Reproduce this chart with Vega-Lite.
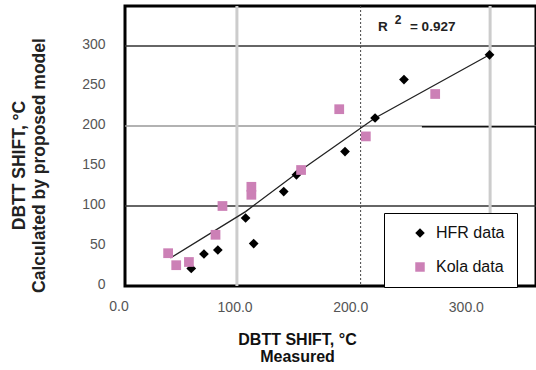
{
  "$schema": "https://vega.github.io/schema/vega-lite/v6.json",
  "autosize": "none",
  "width": 411,
  "height": 280,
  "padding": {"left": 125, "top": 6, "right": 0, "bottom": 84},
  "background": "white",
  "config": {
    "view": {"stroke": "black", "strokeWidth": 3},
    "font": "Liberation Sans"
  },
  "datasets": {
    "points": [
      {"series": "HFR data", "measured": 62.5, "calc": 22},
      {"series": "HFR data", "measured": 73.5, "calc": 40},
      {"series": "HFR data", "measured": 85.5, "calc": 45},
      {"series": "HFR data", "measured": 109.5, "calc": 85},
      {"series": "HFR data", "measured": 116.5, "calc": 53},
      {"series": "HFR data", "measured": 142.5, "calc": 118},
      {"series": "HFR data", "measured": 153.5, "calc": 139},
      {"series": "HFR data", "measured": 195.5, "calc": 168},
      {"series": "HFR data", "measured": 221.5, "calc": 210},
      {"series": "HFR data", "measured": 246.5, "calc": 258},
      {"series": "HFR data", "measured": 320.5, "calc": 289},
      {"series": "Kola data", "measured": 42.5, "calc": 41},
      {"series": "Kola data", "measured": 49.5, "calc": 26},
      {"series": "Kola data", "measured": 60.5, "calc": 30},
      {"series": "Kola data", "measured": 83.5, "calc": 64},
      {"series": "Kola data", "measured": 89.5, "calc": 100},
      {"series": "Kola data", "measured": 114.5, "calc": 124},
      {"series": "Kola data", "measured": 114.5, "calc": 114},
      {"series": "Kola data", "measured": 157.5, "calc": 145},
      {"series": "Kola data", "measured": 190.5, "calc": 221},
      {"series": "Kola data", "measured": 213.5, "calc": 187},
      {"series": "Kola data", "measured": 273.5, "calc": 240}
    ],
    "fit": [
      {"measured": 44.5, "calc": 35},
      {"measured": 109.5, "calc": 93},
      {"measured": 157.5, "calc": 145},
      {"measured": 221.5, "calc": 210},
      {"measured": 320.5, "calc": 289}
    ],
    "hdark": [
      {"y": 100},
      {"y": 300}
    ],
    "hlight": [
      {"y": 200}
    ],
    "hblack": [
      {"y": 199, "xa": 262, "xb": 361}
    ],
    "vgrid": [
      {"x": 102},
      {"x": 321}
    ],
    "vdot": [
      {"x": 209}
    ],
    "zerolabel": [
      {"x": 0, "y": -26, "t": "0.0"}
    ],
    "rlabel": [
      {"x": 224, "y": 323.5, "t": "R"},
      {"x": 251.7, "y": 323.5, "t": "= 0.927"}
    ],
    "rsup": [
      {"x": 238.5, "y": 333, "t": "2"}
    ]
  },
  "layer": [
    {
      "data": {"name": "hdark"},
      "mark": {"type": "rule", "strokeWidth": 1.3, "color": "#333333"},
      "encoding": {
        "y": {"field": "y", "type": "quantitative", "scale": {"domain": [0, 350]}}
      }
    },
    {
      "data": {"name": "hlight"},
      "mark": {"type": "rule", "strokeWidth": 1.3, "color": "#999999"},
      "encoding": {
        "y": {"field": "y", "type": "quantitative"}
      }
    },
    {
      "data": {"name": "hblack"},
      "mark": {"type": "rule", "strokeWidth": 1.5, "color": "#111111"},
      "encoding": {
        "y": {"field": "y", "type": "quantitative"},
        "x": {"field": "xa", "type": "quantitative", "scale": {"domain": [5.2, 360.7]}},
        "x2": {"field": "xb"}
      }
    },
    {
      "data": {"name": "vgrid"},
      "mark": {"type": "rule", "strokeWidth": 3, "color": "#cccccc"},
      "encoding": {
        "x": {"field": "x", "type": "quantitative"}
      }
    },
    {
      "data": {"name": "vdot"},
      "mark": {"type": "rule", "strokeWidth": 1, "color": "#444444", "strokeDash": [2, 2]},
      "encoding": {
        "x": {"field": "x", "type": "quantitative"}
      }
    },
    {
      "data": {"name": "fit"},
      "mark": {"type": "line", "color": "#222222", "strokeWidth": 1.3},
      "encoding": {
        "x": {"field": "measured", "type": "quantitative"},
        "y": {"field": "calc", "type": "quantitative"}
      }
    },
    {
      "data": {"name": "points"},
      "mark": {"type": "point", "filled": true, "opacity": 1, "size": 95},
      "encoding": {
        "x": {
          "field": "measured", "type": "quantitative",
          "scale": {"domain": [5.2, 360.7], "nice": false, "zero": false},
          "axis": {
            "values": [0, 100, 200, 300], "format": ".1f", "grid": false, "domain": false,
            "ticks": false, "labelFlush": false, "labelFontSize": 14, "labelColor": "#555555", "labelPadding": 14,
            "title": ["DBTT SHIFT, °C", "Measured"], "titleFontSize": 16, "titleFontWeight": "bold",
            "titleColor": "#111111", "titleLineHeight": 17, "titleX": 172, "titleY": 45, "titleBaseline": "top"
          }
        },
        "y": {
          "field": "calc", "type": "quantitative",
          "scale": {"domain": [0, 350], "nice": false},
          "axis": {
            "values": [0, 50, 100, 150, 200, 250, 300], "grid": false, "domain": false,
            "ticks": false, "labelFontSize": 14, "labelColor": "#555555", "labelPadding": 20, "labelOffset": -2,
            "title": ["DBTT SHIFT, °C", "Calculated by proposed model"], "titleFontSize": 17.5, "titleFontWeight": "bold",
            "titleColor": "#222222", "titleLineHeight": 20, "titleX": -115, "titleY": 159, "titleBaseline": "top"
          }
        },
        "shape": {
          "field": "series", "type": "nominal",
          "scale": {"domain": ["HFR data", "Kola data"], "range": ["diamond", "square"]},
          "legend": {
            "title": null, "orient": "none", "legendX": 259, "legendY": 207,
            "strokeColor": "black", "fillColor": "white",
            "padding": 12, "rowPadding": 18, "labelFontSize": 16, "labelColor": "#111111",
            "symbolSize": 90, "labelLimit": 200, "symbolOffset": 16, "labelOffset": 8
          }
        },
        "color": {
          "field": "series", "type": "nominal",
          "scale": {"domain": ["HFR data", "Kola data"], "range": ["#000000", "#cc80b6"]}
        }
      }
    },
    {
      "data": {"name": "zerolabel"},
      "mark": {"type": "text", "fontSize": 14, "align": "center", "baseline": "middle", "color": "#555555"},
      "encoding": {
        "x": {"field": "x", "type": "quantitative"},
        "y": {"field": "y", "type": "quantitative"},
        "text": {"field": "t", "type": "nominal"}
      }
    },
    {
      "data": {"name": "rlabel"},
      "mark": {"type": "text", "fontWeight": "bold", "fontSize": 13.5, "align": "left", "baseline": "middle", "color": "#222222"},
      "encoding": {
        "x": {"field": "x", "type": "quantitative"},
        "y": {"field": "y", "type": "quantitative"},
        "text": {"field": "t", "type": "nominal"}
      }
    },
    {
      "data": {"name": "rsup"},
      "mark": {"type": "text", "fontWeight": "bold", "fontSize": 12, "align": "left", "baseline": "middle", "color": "#222222"},
      "encoding": {
        "x": {"field": "x", "type": "quantitative"},
        "y": {"field": "y", "type": "quantitative"},
        "text": {"field": "t", "type": "nominal"}
      }
    }
  ]
}
